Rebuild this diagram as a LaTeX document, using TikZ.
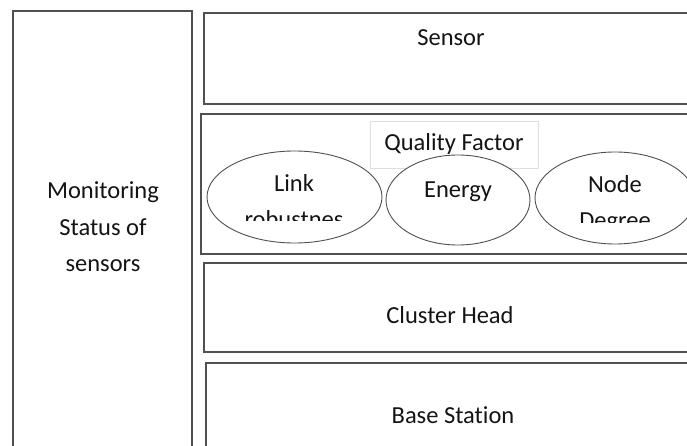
\documentclass[tikz,border=0pt]{standalone}
\usepackage{fontspec}
\setmainfont{Carlito}[Ligatures=NoCommon]
\usetikzlibrary{shapes.geometric}
\definecolor{frame}{RGB}{80,80,80}
\definecolor{lightframe}{RGB}{222,222,222}
\definecolor{ink}{RGB}{20,20,20}
\tikzset{
  panel/.style={draw=frame, line width=1.4pt, fill=white, rectangle, inner sep=0pt},
  tag/.style={draw=lightframe, line width=0.8pt, fill=white, rectangle, inner sep=0pt},
  factor/.style={draw=frame, line width=0.9pt, fill=white, ellipse, inner sep=0pt},
  word/.style={anchor=base, text=ink, inner sep=0pt, font=\fontsize{24.5}{36}\selectfont}
}
\begin{document}
\begin{tikzpicture}[x=1pt, y=-1pt]
  \clip (0,0) rectangle (687,446);
  \fill[white] (0,0) rectangle (687,446);

  % left column
  \node[panel, minimum width=179pt, minimum height=449pt] (monitor) at (102.5,235.5) {};
  \node[word] (mon1) at (103,199) {Monitoring};
  \node[word] (mon2) at (103,235) {Status of};
  \node[word] (mon3) at (103,271) {sensors};

  % layered blocks on the right
  \node[panel, minimum width=496pt, minimum height=91pt] (sensor) at (452,58.5) {};
  \node[word] (sensortxt) at (451,46) {Sensor};

  \node[panel, minimum width=499pt, minimum height=140pt] (quality) at (450.5,184) {};
  \node[tag, minimum width=168pt, minimum height=47pt] (qftag) at (454,144.5) {};
  \node[word] (qftxt) at (454,151) {Quality Factor};

  \node[factor, minimum width=175pt, minimum height=92pt] (link) at (294.5,197) {};
  \node[factor, minimum width=144pt, minimum height=90pt] (energy) at (458,200) {};
  \node[factor, minimum width=160pt, minimum height=92pt] (degree) at (615,198) {};

  \begin{scope}
    \clip (215,160) rectangle (375,221);
    \node[word] (linktxt) at (294,192) {Link};
    \node[word] (robtxt) at (294,228) {robustnes};
  \end{scope}
  \node[word] (energytxt) at (458,198) {Energy};
  \begin{scope}
    \clip (545,160) rectangle (687,223);
    \node[word] (nodetxt) at (615,193) {Node};
    \node[word] (degtxt) at (615,229) {Degree};
  \end{scope}

  \node[panel, minimum width=496pt, minimum height=89pt] (cluster) at (452,307.5) {};
  \node[word] (clustertxt) at (450,323) {Cluster Head};

  \node[panel, minimum width=494pt, minimum height=97pt] (base) at (453,411.5) {};
  \node[word] (basetxt) at (453,423) {Base Station};
\end{tikzpicture}
\end{document}
